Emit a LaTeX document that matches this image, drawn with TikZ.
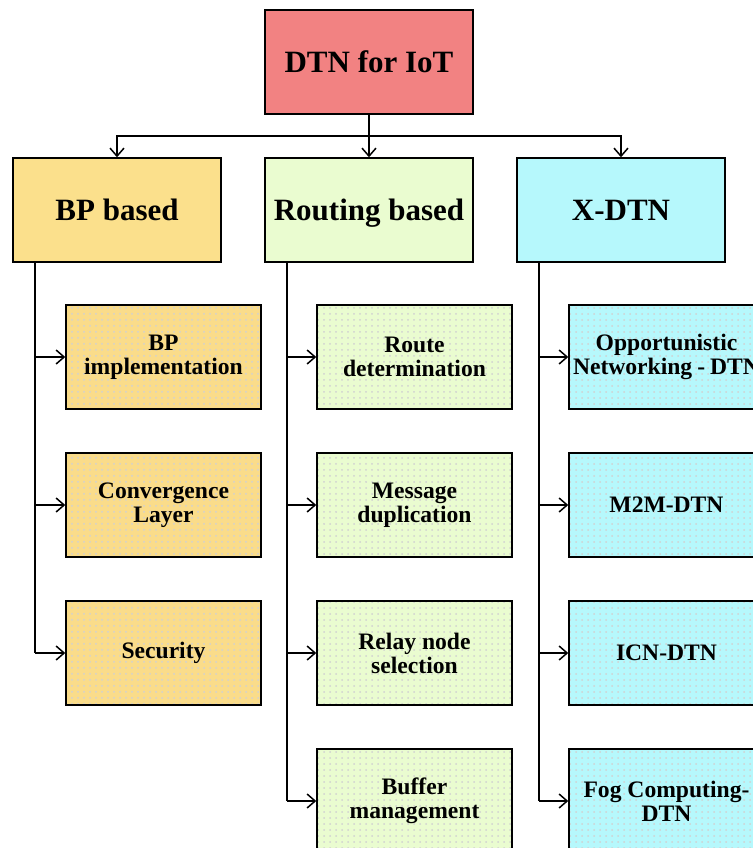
\documentclass[tikz,border=0pt]{standalone}
\usepackage{fontspec}
\setmainfont{Liberation Serif}
\usetikzlibrary{patterns,arrows.meta}
\definecolor{rootred}{HTML}{F28282}
\definecolor{bpyel}{HTML}{FBE08C}
\definecolor{bpleaf}{HTML}{FADC8A}
\definecolor{rtgreen}{HTML}{EAFCD0}
\definecolor{xcyan}{HTML}{B6F8FC}
\tikzset{
  box/.style={draw,line width=0.75pt,minimum width=104pt,minimum height=52pt,
    align=center,text height=11pt,text depth=0.8pt,
    font=\bfseries\fontsize{15.5}{17}\selectfont},
  leaf/.style={line width=0.75pt,minimum width=97.5pt,minimum height=52pt,
    inner sep=2pt,text width=93.5pt,align=flush center,
    font=\bfseries\fontsize{11.8}{12}\selectfont,
    postaction={pattern=dots,pattern color=black!18,draw=black}},
}
\begin{document}
\begin{tikzpicture}[x=0.5pt,y=-0.5pt,line width=0.75pt,>={Straight Barb[length=4pt,width=7pt]}]
\useasboundingbox (0,0) rectangle (753,848);
\clip (0,0) rectangle (753,848);
\node[box,fill=rootred](root) at(369,62){DTN for IoT};
\node[box,fill=bpyel](bp) at(117,210){BP based};
\node[box,fill=rtgreen](rt) at(369,210){Routing based};
\node[box,fill=xcyan](xd) at(621,210){X-DTN};
% BP based
\node[leaf,fill=bpleaf](bp1) at(163.5,357){BP\\implementation};
\node[leaf,fill=bpleaf](bp2) at(163.5,505){Convergence\\Layer};
\node[leaf,fill=bpleaf](bp3) at(163.5,653){Security};
% Routing based
\node[leaf,fill=rtgreen](rt1) at(414.5,357){Route\\determination};
\node[leaf,fill=rtgreen](rt2) at(414.5,505){Message\\duplication};
\node[leaf,fill=rtgreen](rt3) at(414.5,653){Relay node\\selection};
\node[leaf,fill=rtgreen](rt4) at(414.5,801){Buffer\\management};
% X-DTN
\node[leaf,fill=xcyan](xd1) at(666.5,357){Opportunistic\\Networking~-~DTN};
\node[leaf,fill=xcyan](xd2) at(666.5,505){M2M-DTN};
\node[leaf,fill=xcyan](xd3) at(666.5,653){ICN-DTN};
\node[leaf,fill=xcyan](xd4) at(666.5,801){Fog~Computing-\\DTN};
% connectors
\coordinate(j) at(369,136);
\draw(root.south)--(j);
\draw[->](j)-|(bp.north);
\draw[->](j)-|(xd.north);
\draw[->](j)--(rt.north);
\coordinate(bpt) at(35,262);
\coordinate(rtt) at(287,262);
\coordinate(xdt) at(539,262);
\draw(bpt)--(bpt|-bp3.west);
\draw(rtt)--(rtt|-rt4.west);
\draw(xdt)--(xdt|-xd4.west);
\foreach \n in {bp1,bp2,bp3}
  \draw[->](bpt|-\n.west)--(\n.west);
\foreach \n in {rt1,rt2,rt3,rt4}
  \draw[->](rtt|-\n.west)--(\n.west);
\foreach \n in {xd1,xd2,xd3,xd4}
  \draw[->](xdt|-\n.west)--(\n.west);
\end{tikzpicture}
\end{document}
